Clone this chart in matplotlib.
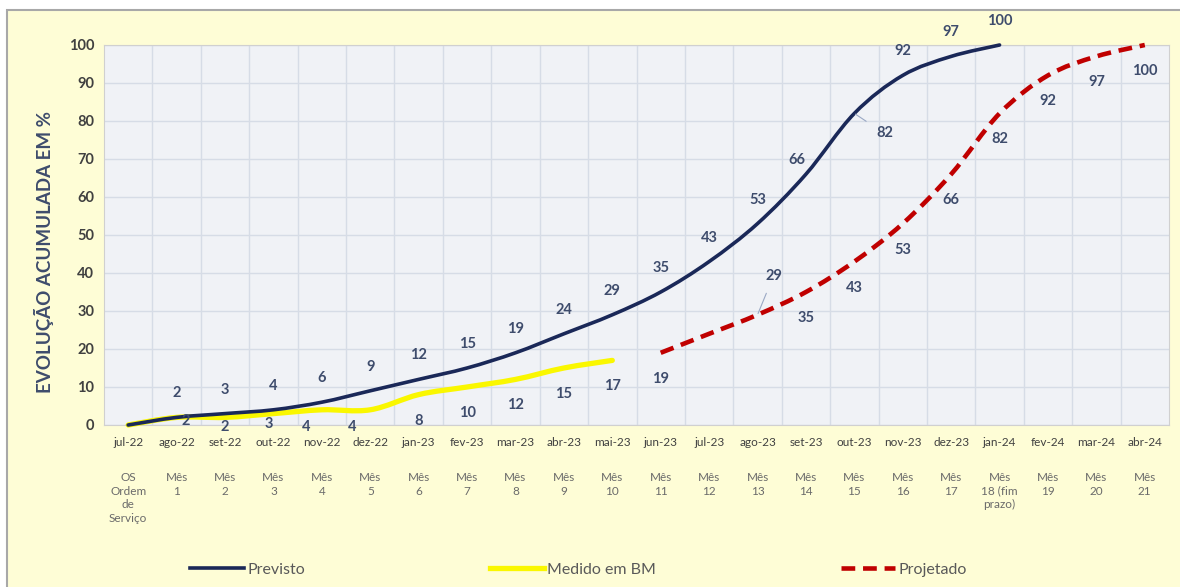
import matplotlib
matplotlib.use("Agg")
import matplotlib.pyplot as plt
from matplotlib.path import Path
from matplotlib.patches import PathPatch, Rectangle
from matplotlib.lines import Line2D
import numpy as np

# ---------------- data ----------------
months = ["jul-22", "ago-22", "set-22", "out-22", "nov-22", "dez-22", "jan-23", "fev-23",
          "mar-23", "abr-23", "mai-23", "jun-23", "jul-23", "ago-23", "set-23", "out-23",
          "nov-23", "dez-23", "jan-24", "fev-24", "mar-24", "abr-24"]
mes_labels = ["OS\nOrdem\nde\nServiço", "Mês\n1", "Mês\n2", "Mês\n3", "Mês\n4", "Mês\n5",
              "Mês\n6", "Mês\n7", "Mês\n8", "Mês\n9", "Mês\n10", "Mês\n11", "Mês\n12",
              "Mês\n13", "Mês\n14", "Mês\n15", "Mês\n16", "Mês\n17", "Mês\n18 (fim\nprazo)",
              "Mês\n19", "Mês\n20", "Mês\n21"]

previsto = [0, 2, 3, 4, 6, 9, 12, 15, 19, 24, 29, 35, 43, 53, 66, 82, 92, 97, 100]
medido = [0, 2, 2, 3, 4, 4, 8, 10, 12, 15, 17]
projetado_start = 11  # jun-23
projetado = [19, 24, 29, 35, 43, 53, 66, 82, 92, 97, 100]

# ---------------- style ----------------
FONT = ["Lato", "DejaVu Sans"]
plt.rcParams["font.family"] = FONT
C_PREV = "#1A2858"
C_MED = "#FAF700"
C_PROJ = "#C00000"
C_LBL = "#3E4C6C"

fig = plt.figure(figsize=(11.8, 5.87), dpi=100, facecolor="white")
bg = Rectangle((7 / 1180, -0.02), 1.05, 1 - 10 / 587 + 0.02,
               transform=fig.transFigure, facecolor="#FEFDD6",
               edgecolor="#A8A8A8", linewidth=1.5, zorder=-10)
fig.add_artist(bg)

ax = fig.add_axes([104 / 1180, 1 - 425 / 587, 1065 / 1180, 380 / 587])
ax.set_zorder(1)
ax.set_facecolor("#F0F2F6")
ax.set_xlim(-0.5, len(months) - 0.5)
ax.set_ylim(0, 100)
ax.set_yticks(range(0, 101, 10))
ax.set_xticks(range(len(months)))
ax.set_xticklabels(months, fontsize=8.5, color="#404040")
ax.set_xticks(np.arange(len(months) - 1) + 0.5, minor=True)
ax.grid(True, which="major", axis="y", color="#D6DCE6", linewidth=1)
ax.grid(True, which="minor", axis="x", color="#D6DCE6", linewidth=1)
ax.tick_params(axis="both", which="both", length=0)
ax.tick_params(axis="x", pad=9)
ax.tick_params(axis="y", pad=7)
for t in ax.get_yticklabels():
    t.set_fontweight("bold")
    t.set_fontsize(10.5)
    t.set_color("#404040")
for s in ax.spines.values():
    s.set_color("#D0D0D0")
    s.set_linewidth(0.8)
ax.set_axisbelow(True)

ax.set_ylabel("EVOLUÇÃO ACUMULADA EM %", fontsize=13.5, fontweight="bold", color="#3E4C6C")
ax.yaxis.set_label_coords(-0.047, 0.455)

# second row of x labels
for i, lab in enumerate(mes_labels):
    ax.annotate(lab, xy=(i, 0), xycoords=("data", "axes fraction"), xytext=(0, -47),
                textcoords="offset pixels", ha="center", va="top", fontsize=8.5,
                color="#6A6A6A", linespacing=1.3, annotation_clip=False)


def smooth_path(xs, ys):
    pts = np.column_stack([xs, ys]).astype(float)
    n = len(pts)
    verts = [pts[0]]
    codes = [Path.MOVETO]
    for i in range(n - 1):
        p0 = pts[i - 1] if i > 0 else pts[i]
        p1 = pts[i]
        p2 = pts[i + 1]
        p3 = pts[i + 2] if i + 2 < n else pts[i + 1]
        c1 = p1 + (p2 - p0) / 6.0
        c2 = p2 - (p3 - p1) / 6.0
        verts += [c1, c2, p2]
        codes += [Path.CURVE4] * 3
    return Path(verts, codes)


x_prev = np.arange(len(previsto))
x_med = np.arange(len(medido))
x_proj = np.arange(len(projetado)) + projetado_start

ax.add_patch(PathPatch(smooth_path(x_med, medido), fill=False, edgecolor=C_MED,
                       linewidth=3.8, capstyle="round", joinstyle="round", zorder=3,
                       clip_on=False))
ax.add_patch(PathPatch(smooth_path(x_prev, previsto), fill=False, edgecolor=C_PREV,
                       linewidth=2.6, capstyle="round", joinstyle="round", zorder=4,
                       clip_on=False))
ax.add_patch(PathPatch(smooth_path(x_proj, projetado), fill=False, edgecolor=C_PROJ,
                       linewidth=3.3, linestyle=(0, (3, 1.7)), capstyle="butt",
                       joinstyle="round", zorder=4, clip_on=False))


def add_labels(xs, vals, default, special, skip=()):
    for k, (x, v) in enumerate(zip(xs, vals)):
        if v == 0 or k in skip:
            continue
        off, leader = special.get(k, (default, False))
        kw = {}
        if leader:
            kw["arrowprops"] = dict(arrowstyle="-", color="#9AA8C4", lw=0.8,
                                    shrinkA=6, shrinkB=1)
        ax.annotate(str(v), xy=(x, v), xytext=off, textcoords="offset pixels",
                    ha="center", va="center", fontsize=10.5, fontweight="bold",
                    color=C_LBL, annotation_clip=False, zorder=6, **kw)


add_labels(x_prev, previsto, (0, 24),
           {14: ((-9, 14), False), 15: ((30, -20), True)})
add_labels(x_med, medido, (0, -26),
           {1: ((9, -4), False), 2: ((0, -10), False), 3: ((-5, -10), False),
            4: ((-16, -17), False), 5: ((-18, -17), False)})
add_labels(x_proj, projetado, (0, -26),
           {2: ((16, 39), True)}, skip=(1,))

# legend
handles = [Line2D([], [], color=C_PREV, lw=2.6),
           Line2D([], [], color=C_MED, lw=3.8),
           Line2D([], [], color=C_PROJ, lw=3.3, linestyle=(0, (3, 1.7)))]
leg = fig.legend(handles, ["Previsto", "Medido em BM", "Projetado"], ncol=3,
                 loc="center", bbox_to_anchor=(0.490, 1 - 570 / 587), frameon=False,
                 fontsize=11.5, handlelength=3.4, handletextpad=0.2, columnspacing=11.55)
for t in leg.get_texts():
    t.set_color("#595959")

fig.savefig("out.png", dpi=100, facecolor=fig.get_facecolor())
